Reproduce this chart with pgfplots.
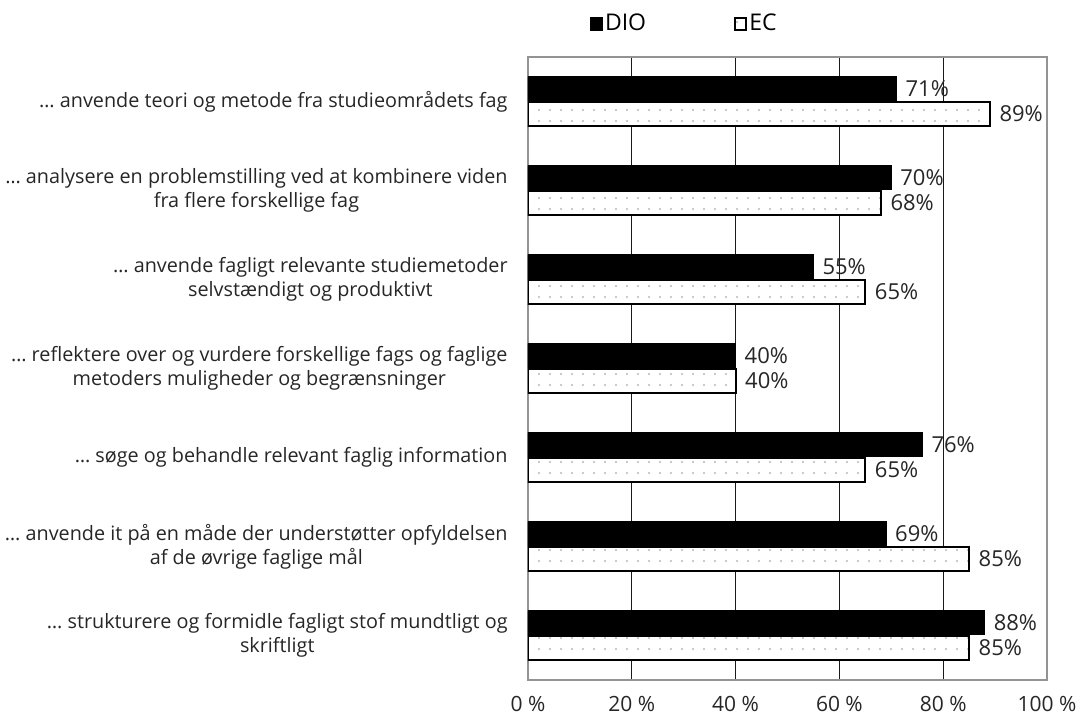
\documentclass[border=0pt]{standalone}
\usepackage{pgfplots}
\pgfplotsset{compat=1.18}
\usetikzlibrary{patterns.meta}
\usepackage{fontspec}
\setmainfont{Open Sans}

% Share of respondents per competence, DIO vs EC (percent)
\pgfplotstableread{
y DIO EC
1 71 89
2 70 68
3 55 65
4 40 40
5 76 65
6 69 85
7 88 85
}\datatable

\newcommand{\lblfont}{\fontsize{9.9pt}{12pt}\selectfont}
\newcommand{\valfont}{\fontsize{11pt}{13pt}\selectfont}
\newcommand{\tickfont}{\fontsize{10.5pt}{12pt}\selectfont}
\newcommand{\legfont}{\fontsize{11.5pt}{13pt}\selectfont}

\begin{document}
\lblfont
\begin{tikzpicture}
\begin{axis}[
  at={(0,0)}, anchor=south west,
  scale only axis,
  width=259.5pt, height=311.5pt,
  xbar,
  bar width=12pt,
  xmin=0, xmax=100,
  ymin=0.5, ymax=7.5,
  y dir=reverse,
  xtick={0,20,40,60,80,100},
  xticklabels={0 \%,20 \%,40 \%,60 \%,80 \%,100 \%},
  ytick={1,...,7},
  yticklabels={
    {… anvende teori og metode fra studieområdets fag},
    {… analysere en problemstilling ved at kombinere viden\\fra flere forskellige fag},
    {… anvende fagligt relevante studiemetoder\\selvstændigt og produktivt},
    {… reflektere over og vurdere forskellige fags og faglige\\metoders muligheder og begrænsninger},
    {… søge og behandle relevant faglig information},
    {… anvende it på en måde der understøtter opfyldelsen\\af de øvrige faglige mål},
    {… strukturere og formidle fagligt stof mundtligt og\\skriftligt}},
  yticklabel style={align=center, anchor=east, inner sep=0pt, xshift=-10pt, font=\lblfont, text=black!85},
  xticklabel style={anchor=north, inner sep=0pt, yshift=-8pt, font=\tickfont, text=black!85},
  major tick length=0pt,
  ytick style={draw=none},
  xmajorgrids,
  grid style={black!90, line width=0.5pt},
  axis line style={gray!85, line width=1pt},
  nodes near coords={\pgfmathprintnumber[assume math mode=true]{\pgfplotspointmeta}\%},
  nodes near coords align={horizontal},
  every node near coord/.append style={font=\valfont, text=black!85, xshift=1pt},
  legend columns=2,
  legend style={draw=none, fill=none, at={(0.303,1.053)}, anchor=center,
    font=\legfont, inner sep=0pt,
    /tikz/every even column/.append style={column sep=42pt},
    /tikz/every odd column/.append style={column sep=-1pt}},
  legend image code/.code={\draw[#1, line width=1pt] (0pt,-2.8pt) rectangle (5.6pt,2.8pt);},
]
\addplot[draw=black, fill=black, bar shift=6.3pt, line width=0.5pt]
  table[x=DIO, y=y] {\datatable};
\addplot[draw=black, line width=1pt, fill=white, bar shift=-6.3pt,
  postaction={pattern={Dots[distance=5.5pt, radius=0.6pt]}, pattern color=gray!55}]
  table[x=EC, y=y] {\datatable};
\legend{DIO, EC}
\end{axis}
\path[use as bounding box] (-264pt,-17.5pt) rectangle (276.5pt,340pt);
\end{tikzpicture}
\end{document}
